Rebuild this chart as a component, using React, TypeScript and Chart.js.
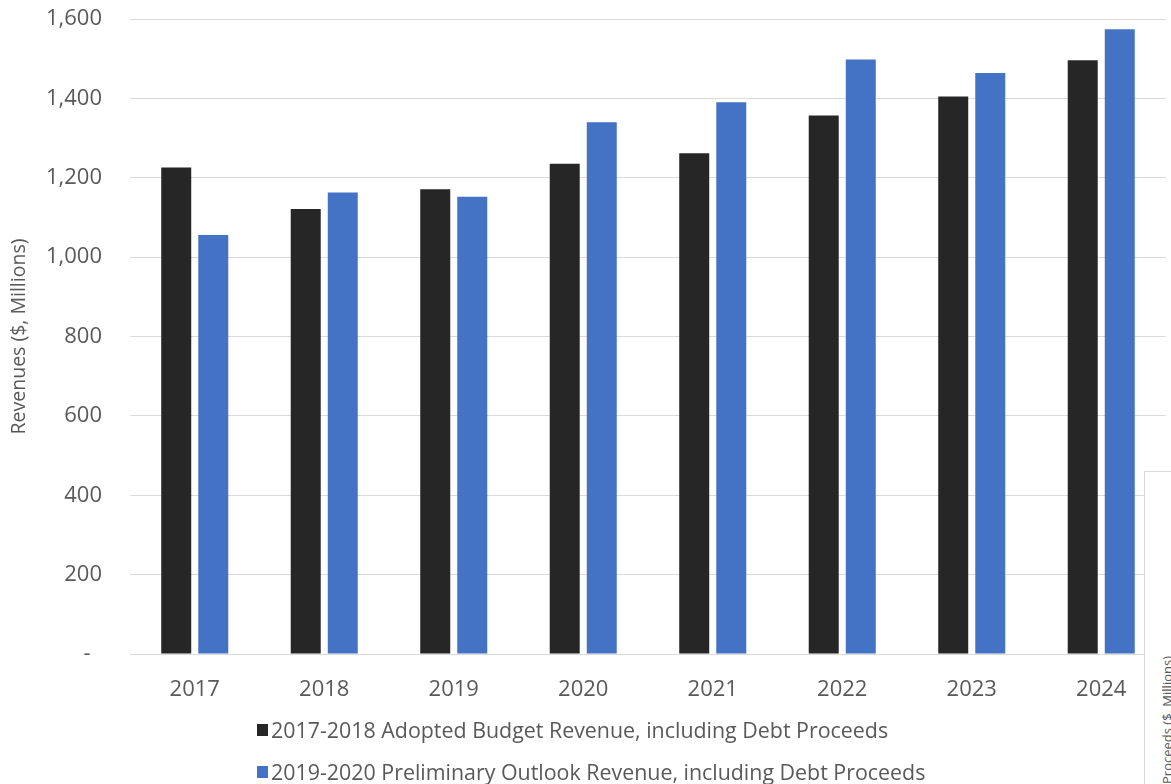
import React, { useEffect, useRef } from "react";
import { Chart, registerables } from "chart.js";

Chart.register(...registerables);

const years = ["2017", "2018", "2019", "2020", "2021", "2022", "2023", "2024"];
const adoptedBudget = [1226, 1121, 1171, 1235, 1262, 1357, 1405, 1496];
const preliminaryOutlook = [1056, 1163, 1152, 1340, 1390, 1498, 1464, 1574];
const seriesLabels = [
  "2017-2018 Adopted Budget Revenue, including Debt Proceeds",
  "2019-2020 Preliminary Outlook Revenue, including Debt Proceeds",
];
const seriesColors = ["#262626", "#4472C4"];
const yTitle = "Revenues ($, Millions)";
const sideText = "Proceeds ($, Millions)";

const FONT = "'Open Sans', sans-serif";
const TEXT = "#595959";

export default function App() {
  const ref = useRef<HTMLCanvasElement | null>(null);

  useEffect(() => {
    document.body.style.margin = "0";
    const ctx = ref.current!;
    const chart = new Chart(ctx, {
      type: "bar",
      data: {
        labels: years,
        datasets: [
          {
            label: seriesLabels[0],
            data: adoptedBudget,
            backgroundColor: seriesColors[0],
            barPercentage: 0.81,
            categoryPercentage: 0.572,
          },
          {
            label: seriesLabels[1],
            data: preliminaryOutlook,
            backgroundColor: seriesColors[1],
            barPercentage: 0.81,
            categoryPercentage: 0.572,
          },
        ],
      },
      options: {
        animation: false,
        responsive: false,
        maintainAspectRatio: false,
        layout: { padding: { top: 19, right: 5, left: 0, bottom: 80 } },
        plugins: {
          legend: { display: false },
          tooltip: { enabled: false },
        },
        scales: {
          x: {
            grid: { display: false },
            border: { display: false },
            ticks: {
              color: TEXT,
              font: { family: FONT, size: 22 },
              padding: 15,
              maxRotation: 0,
              autoSkip: false,
            },
            afterFit: (s: any) => {
              s.height = 50;
              s.paddingLeft = 0;
              s.paddingRight = 0;
            },
          },
          y: {
            min: 0,
            max: 1600,
            grid: { color: "#d9d9d9", lineWidth: 1, drawTicks: false },
            border: { display: false },
            ticks: {
              stepSize: 200,
              color: TEXT,
              font: { family: FONT, size: 22 },
              padding: 28,
              callback: (v: any) =>
                Number(v) === 0 ? "-  " : Number(v).toLocaleString("en-US"),
            },
            title: {
              display: true,
              text: yTitle,
              color: TEXT,
              font: { family: FONT, size: 19.5 },
              padding: { top: 8, bottom: 0 },
            },
            afterFit: (s: any) => {
              s.width = 130;
              s.paddingTop = 0;
              s.paddingBottom = 0;
            },
          },
        },
      },
    });
    return () => chart.destroy();
  }, []);

  const legendRow = (i: number, top: number) => (
    <div
      style={{
        position: "absolute",
        left: 257,
        top,
        display: "flex",
        alignItems: "center",
        fontFamily: FONT,
        fontSize: 21.4,
        color: TEXT,
        whiteSpace: "nowrap",
        lineHeight: "28px",
      }}
    >
      <span
        style={{
          display: "inline-block",
          width: 11,
          height: 12,
          background: seriesColors[i],
          marginRight: 3,
        }}
      />
      <span>{seriesLabels[i]}</span>
    </div>
  );

  return (
    <div style={{ position: "relative", width: 1171, height: 784, overflow: "hidden", background: "#fff" }}>
      <canvas ref={ref} width={1171} height={784} style={{ position: "absolute", left: 0, top: 0 }} />
      {legendRow(0, 716)}
      {legendRow(1, 758)}
      <div
        style={{
          position: "absolute",
          left: 1144,
          top: 471,
          width: 60,
          height: 400,
          background: "#fff",
          border: "1px solid #d9d9d9",
          overflow: "hidden",
        }}
      >
        <div
          style={{
            position: "absolute",
            left: 14,
            top: 484,
            width: 300,
            height: 16,
            transformOrigin: "0 0",
            transform: "rotate(-90deg)",
            fontFamily: FONT,
            fontSize: 13,
            color: TEXT,
            whiteSpace: "nowrap",
            lineHeight: "16px",
            textAlign: "right",
          }}
        >
          {sideText}
        </div>
      </div>
    </div>
  );
}
